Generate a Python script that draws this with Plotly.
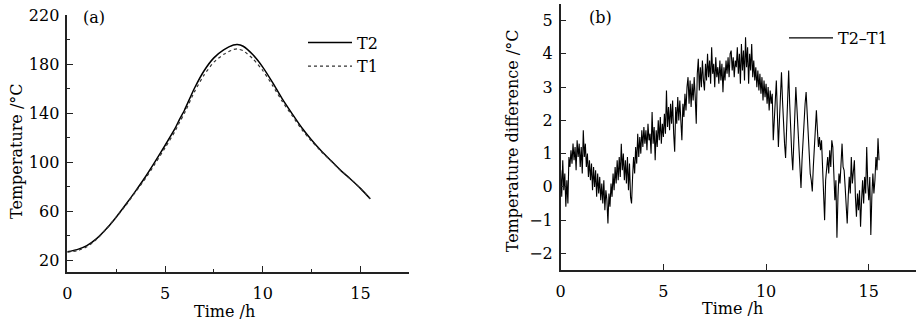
import plotly.graph_objects as go

# ---- Panel (a) data ----
time_a = [0, 0.5, 1.0, 1.5, 2.0, 2.5, 3.0, 3.5, 4.0, 4.5, 5.0, 5.5, 5.75, 6.0, 6.5, 7.0, 7.5,
          8.0, 8.5, 8.7, 9.0, 9.5, 10.0, 10.5, 11.0, 11.5, 12.0, 12.5, 13.0, 13.5, 14.0, 14.5,
          15.0, 15.5]
t2_vals = [26.8, 28.5, 31.8, 37.5, 45.5, 55.0, 65.5, 76.5, 88.0, 100.5, 113.5, 127.0, 135.0,
           142.5, 160.0, 174.5, 185.0, 191.5, 195.5, 196.0, 194.5, 187.5, 177.5, 165.0, 151.5,
           139.5, 128.0, 118.0, 109.0, 101.0, 93.0, 86.0, 78.5, 70.0]
t1_vals = [26.5, 27.6, 30.8, 37.0, 45.5, 55.0, 64.8, 75.8, 86.6, 98.8, 111.5, 124.8, 132.6,
           140.0, 157.2, 171.1, 181.5, 187.9, 191.8, 192.3, 190.8, 184.2, 174.7, 162.6, 149.5,
           138.0, 126.5, 117.0, 108.5, 100.8, 93.0, 86.0, 78.5, 70.0]

# ---- Panel (b) data: T2-T1, sampled every 0.05 h from 0 to 15.5 h ----
diff_vals = [
    # 0.00 - 0.95
    0.5, -0.3, 0.8, -0.1, 0.4, -0.6, 0.2, -0.5, 0.9, 0.6, 1.1, 0.7, 1.3, 0.8, 1.2, 0.5, 1.4, 0.9, 1.3, 0.6,
    # 1.00 - 1.95
    1.2, 0.4, 1.7, 0.9, 1.3, 0.6, 1.0, 0.3, 0.8, 0.2, 0.7, -0.1, 0.6, 0.0, 0.5, -0.3, 0.4, -0.2, 0.3, -0.4,
    # 2.00 - 2.95
    0.1, -0.5, 0.2, -0.7, -0.1, -0.4, -1.1, -0.2, -0.6, 0.1, -0.3, 0.4, -0.1, 0.6, 0.1, 0.8, 0.2, 0.9, 0.3, 1.3,
    # 3.00 - 3.95
    0.5, 1.0, 0.2, 0.8, 0.1, 0.9, -0.1, 0.7, -0.3, -0.5, 0.3, 0.9, 0.4, 1.2, 0.7, 1.6, 0.9, 1.5, 1.0, 1.7,
    # 4.00 - 4.95
    1.2, 1.8, 1.3, 1.7, 1.1, 1.9, 1.4, 1.6, 1.0, 2.25, 1.3, 1.8, 0.8, 1.7, 1.2, 2.0, 1.4, 2.1, 1.3, 1.9,
    # 5.00 - 5.95
    1.5, 2.2, 1.6, 2.9, 1.8, 2.4, 1.7, 2.5, 1.9, 2.6, 1.6, 1.06, 2.4, 1.9, 2.7, 2.0, 2.6, 1.8, 1.4, 2.5,
    # 6.00 - 6.95
    2.1, 2.8, 2.3, 3.0, 3.3, 2.5, 3.2, 2.4, 3.1, 2.6, 3.3, 2.7, 1.9, 3.4, 3.85, 2.9, 3.6, 3.0, 3.8, 3.2,
    # 7.00 - 7.95
    2.9, 3.7, 3.2, 4.0, 3.3, 3.8, 3.1, 4.2, 3.4, 3.7, 3.0, 3.9, 3.3, 3.6, 3.1, 3.8, 3.2, 3.7, 2.85, 3.6,
    # 8.00 - 8.95
    3.2, 3.8, 3.4, 3.9, 3.3, 4.0, 4.1, 3.5, 3.9, 3.3, 3.8, 3.6, 4.2, 3.4, 4.0, 3.1, 4.3, 3.5, 4.1, 3.2,
    # 9.00 - 9.95
    4.5, 3.6, 4.2, 3.1, 4.0, 3.5, 4.3, 3.3, 3.8, 3.2, 3.6, 3.0, 3.5, 2.9, 3.4, 2.8, 3.3, 2.6, 3.2, 2.7,
    # 10.00 - 10.95
    3.1, 2.5, 3.0, 2.3, 2.9, 2.5, 2.8, 1.4, 2.0, 2.6, 3.2, 2.2, 1.2, 2.0, 2.9, 3.45, 2.6, 1.8, 1.3, 0.87,
    # 11.00 - 11.95
    1.9, 2.8, 3.5, 2.5, 1.6, 1.0, 0.5, 1.5, 2.2, 3.0, 2.4, 1.7, 1.1, 0.6, -0.03, 0.8, 1.5, 2.2, 2.5, 2.85,
    # 12.00 - 12.95
    2.1, 1.4, 0.9, 0.4, 0.2, -0.14, 0.6, 1.3, 1.8, 2.3, 1.7, 1.2, 1.5, 1.1, 1.4, 0.7, 0.1, -1.0, 0.2, 0.7,
    # 13.00 - 13.95
    0.9, 0.4, 1.1, 0.6, 1.4, 1.2, 0.3, -0.4, 0.2, -1.53, -0.3, 0.4, 0.1, 0.9, 1.3, 0.6, 0.5, 0.0, -0.5, -1.1,
    # 14.00 - 14.95
    -0.3, 0.3, -0.2, 0.9, 0.1, 0.4, 0.8, -0.3, -0.9, -0.2, -0.7, -0.1, -1.2, -0.4, 0.2, -0.5, 0.3, -0.2, 1.2, 0.1,
    # 15.00 - 15.50
    -0.4, 0.3, -1.45, -0.3, 0.4, -0.2, 0.2, 0.9, 0.5, 1.46, 0.8,
]
time_b = [round(i * 0.05, 2) for i in range(len(diff_vals))]

x_ticks = [0, 5, 10, 15]
y_ticks_a = [20, 60, 100, 140, 180, 220]
y_ticks_b = [-2, -1, 0, 1, 2, 3, 4, 5]

FONT = "DejaVu Serif"
W, H = 916, 324

fig = go.Figure()
fig.add_trace(go.Scatter(x=time_a, y=t2_vals, name="T2", mode="lines",
                         line=dict(color="black", width=1.5, shape="spline", smoothing=0.6),
                         xaxis="x", yaxis="y", legend="legend"))
fig.add_trace(go.Scatter(x=time_a, y=t1_vals, name="T1", mode="lines",
                         line=dict(color="#333333", width=1.2, dash="dot", shape="spline", smoothing=0.6),
                         xaxis="x", yaxis="y", legend="legend"))
fig.add_trace(go.Scatter(x=time_b, y=diff_vals, name="T2\u2013T1", mode="lines",
                         line=dict(color="black", width=1.1),
                         xaxis="x2", yaxis="y2", legend="legend2"))

axis_common = dict(showline=True, linecolor="#222222", linewidth=1.5, ticks="inside",
                   ticklen=6, tickwidth=1.3, tickcolor="#222222", showgrid=False, zeroline=False,
                   tickfont=dict(family=FONT, size=16, color="black"), automargin=False)

def label(text, x, y, angle=0):
    return dict(text=text, x=x / W, y=1 - y / H, xref="paper", yref="paper", showarrow=False,
                xanchor="center", yanchor="middle", textangle=angle,
                font=dict(family=FONT, size=16, color="black"))

fig.update_layout(
    width=W, height=H,
    margin=dict(l=0, r=0, t=0, b=0),
    paper_bgcolor="white", plot_bgcolor="white",
    font=dict(family=FONT, size=16, color="black"),
    xaxis=dict(domain=[67.3 / W, 409.3 / W], range=[0, 17.5], tickvals=x_ticks,
               minor=dict(ticks="inside", dtick=2.5, tick0=0, ticklen=3, tickcolor="#222222"),
               anchor="y", ticklabelstandoff=6, **axis_common),
    yaxis=dict(domain=[(H - 271.7) / H, (H - 15) / H], range=[10.5, 220], tickvals=y_ticks_a,
               minor=dict(ticks="inside", dtick=20, tick0=0, ticklen=3, tickcolor="#222222"),
               anchor="x", ticklabelstandoff=3, **axis_common),
    xaxis2=dict(domain=[560.7 / W, 1.0], range=[0, 17.3], tickvals=x_ticks,
                anchor="y2", ticklabelstandoff=6, **axis_common),
    yaxis2=dict(domain=[(H - 270) / H, (H - 4) / H], range=[-2.5, 5.5], tickvals=y_ticks_b,
                anchor="x2", ticklabelstandoff=3, **axis_common),
    legend=dict(x=303 / W, y=1 - 25.5 / H, xanchor="left", yanchor="top",
                bgcolor="rgba(0,0,0,0)", font=dict(family=FONT, size=16, color="black"),
                tracegroupgap=0, itemwidth=44),
    legend2=dict(x=784 / W, y=1 - 21 / H, xanchor="left", yanchor="top",
                 bgcolor="rgba(0,0,0,0)", font=dict(family=FONT, size=16, color="black"),
                 itemwidth=44),
    annotations=[
        label("(a)", 94, 17),
        label("(b)", 600, 17),
        label("Time /h", 224, 311.5),
        label("Time /h", 732.5, 308.5),
        label("Temperature /\u00b0C", 16.5, 151.5, -90),
        label("Temperature difference /\u00b0C", 513.3, 141, -90),
    ],
)

fig.write_html("out.html", config={"displayModeBar": False},
               post_script="document.body.style.margin='0';document.body.style.overflow='hidden';")
